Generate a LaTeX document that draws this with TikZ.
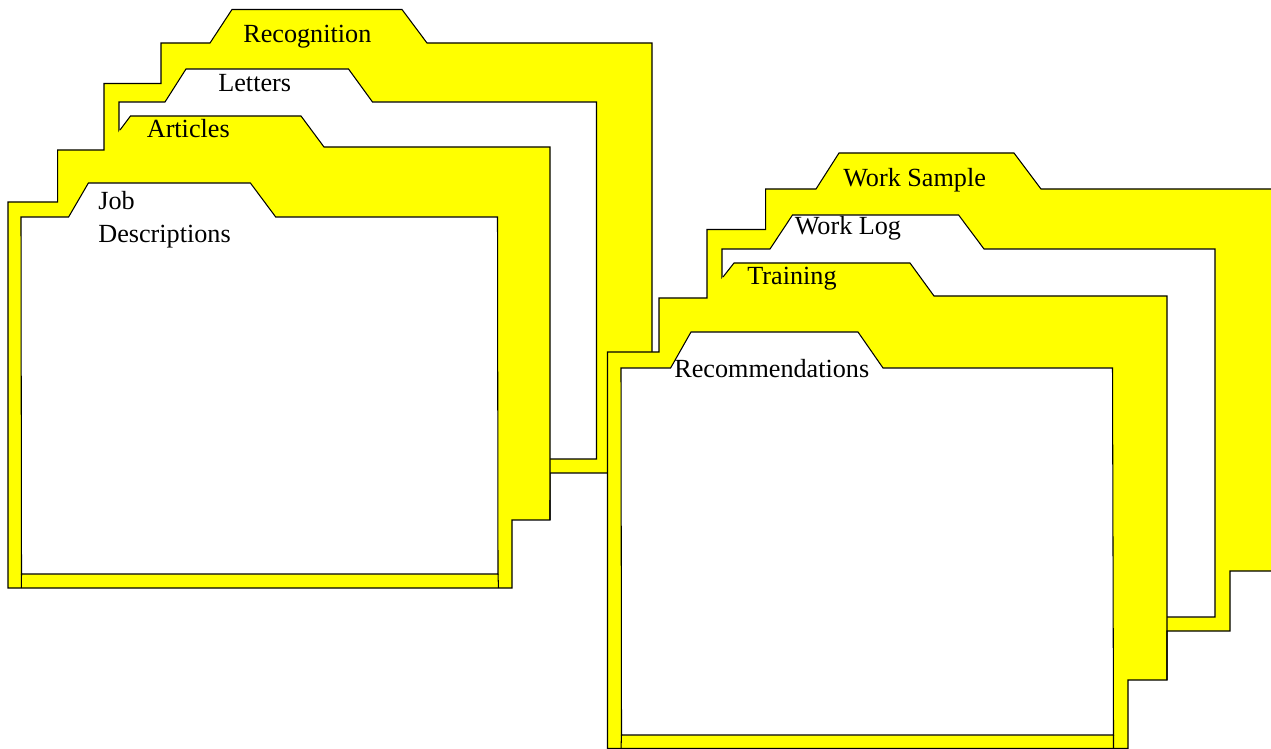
\documentclass[tikz,border=0pt]{standalone}
\usepackage{fontspec}
\setmainfont{Liberation Serif}
\usepackage{tikz}
\definecolor{folderyellow}{RGB}{255,255,0}
\newcommand\tabfont{\fontsize{14.9}{18}\selectfont}
\tikzset{
  cover/.style    = {draw, fill=folderyellow, line width=0.6pt},
  sheet/.style    = {draw, fill=white, line width=0.6pt},
  flapline/.style = {draw, line width=0.6pt},
  foot/.style     = {draw, line width=0.6pt},
  tabtext/.style  = {inner sep=0pt, anchor=base west, font=\tabfont}
}

\begin{document}
\begin{tikzpicture}[x=0.02cm, y=-0.02cm]
  \clip (0,0) rectangle (1271,749);

  % left stack
  \path[cover] (8,588) -- (8,202) -- (57.7,202) -- (57.7,150) -- (104,150) -- (104,83.5)
    -- (161,83.5) -- (161,43) -- (210,43) -- (232,9.5) -- (402,9.5) -- (427,43)
    -- (652,43) -- (652,400) -- (625,400) -- (625,473) -- (550,473) -- (550,520)
    -- (512,520) -- (512,588) -- cycle;
  \path[sheet] (119,459) -- (119,102) -- (165,102) -- (186,69) -- (348.5,69)
    -- (372.5,102) -- (596.5,102) -- (596.5,459) -- cycle;
  \fill[folderyellow] (108.7,145) -- (130.5,116) -- (301,116) -- (324,147) -- (550,147)
    -- (550,500) -- (108.7,500) -- cycle;
  \draw[flapline] (120,130) -- (130.5,116) -- (301,116) -- (324,147) -- (550,147) -- (550,520);
  \path[sheet] (21.5,574) -- (21,217) -- (68.6,217) -- (88.4,183) -- (250.4,183)
    -- (275.7,217) -- (497.5,217) -- (498,574) -- cycle;
  \draw[foot] (21.5,574) -- (21.3,588) (498,574) -- (498.5,588);

  % right stack
  \path[cover] (607.5,748.5) -- (607.5,352) -- (659,352) -- (659,298) -- (707,298) -- (707,229.5)
    -- (765.6,229.5) -- (765.6,189) -- (816,189) -- (839,153) -- (1014,153) -- (1041,189)
    -- (1290,189) -- (1290,571) -- (1230,571) -- (1230,631) -- (1167,631) -- (1167,680)
    -- (1128,680) -- (1128,748.5) -- cycle;
  \path[sheet] (722,617) -- (722,249) -- (770,249) -- (792.5,215) -- (958.6,215)
    -- (984,249) -- (1215,249) -- (1215,617) -- cycle;
  \fill[folderyellow] (712.8,290) -- (734,263) -- (910,263) -- (934,296) -- (1167,296)
    -- (1167,625) -- (712.8,625) -- cycle;
  \draw[flapline] (723,277) -- (734,263) -- (910,263) -- (934,296) -- (1167,296) -- (1167,680);
  \path[sheet] (621.5,735) -- (621,368) -- (670.6,368) -- (691,332) -- (858,332)
    -- (883,368) -- (1112.5,368) -- (1113.5,735) -- cycle;
  \draw[foot] (621.5,735) -- (621,749) (1113.5,735) -- (1113.5,749);

  \node[tabtext] (recog)    at (243,42.5)  {Recognition};
  \node[tabtext] (letters)  at (218,91.5)  {Letters};
  \node[tabtext] (articles) at (146.5,138) {Articles};
  \node[tabtext] (job)      at (98,210)    {Job};
  \node[tabtext] (descr)    at (98,243)    {Descriptions};
  \node[tabtext] (sample)   at (843,186.5) {Work Sample};
  \node[tabtext] (worklog)  at (794.5,235) {Work Log};
  \node[tabtext] (training) at (747,285)   {Training};
  \node[tabtext] (recomm)   at (674,378)   {Recommendations};
\end{tikzpicture}
\end{document}
